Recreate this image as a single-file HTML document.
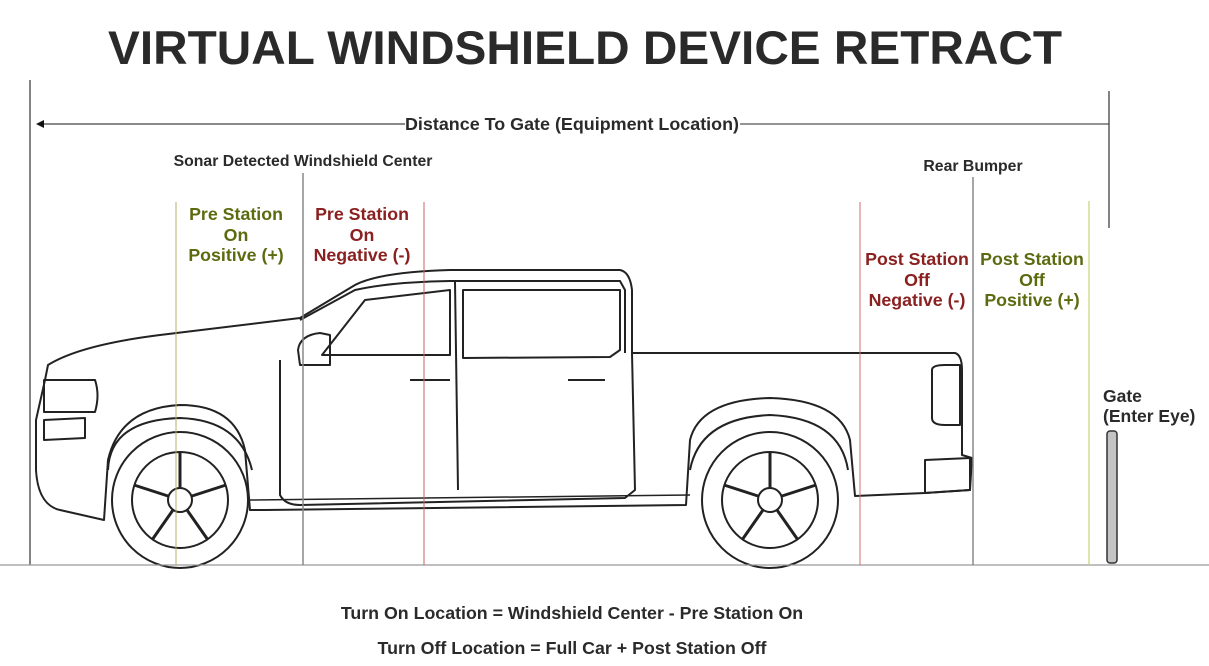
<!DOCTYPE html>
<html><head><meta charset="utf-8"><style>
html,body{margin:0;padding:0;background:#fff;}
svg{display:block}
text{font-family:"Liberation Sans",Arial,sans-serif;font-weight:bold;}
</style></head><body>
<svg width="1209" height="666" viewBox="0 0 1209 666" xmlns="http://www.w3.org/2000/svg">
<rect width="1209" height="666" fill="#fff"/>
<text x="585" y="64" font-size="47.5" fill="#2a2a2a" text-anchor="middle" textLength="954" lengthAdjust="spacingAndGlyphs">VIRTUAL WINDSHIELD DEVICE RETRACT</text>

<!-- truck -->
<g fill="none" stroke="#222" stroke-width="2" stroke-linejoin="round">
<path d="M45 380 L48 365 Q80 345 160 335 L300 318 L355 285 Q380 272 450 270 L620 270 Q630 272 632 290 L632 353 L955 353 Q962 355 962 370 L962 455 L972 458 L970 490 L925 493 L855 496 L850 440 Q840 400 770 398 Q700 400 690 440 L686 505 L265 510 L250 510 L245 450 Q235 405 180 405 Q120 408 108 460 L104 520 L60 510 Q38 505 36 470 L36 420 Z"/>
<path d="M300 320 L355 290 Q390 282 450 281 L620 281 L625 290 L625 353"/>
<path d="M322 355 L365 300 L450 290 L450 355 Z"/>
<path d="M463 290 L463 358 L610 357 L620 350 L620 290 Z"/>
<path d="M455 282 L458 490"/>
<path d="M280 360 L280 495 Q285 505 300 505 L625 498 L635 490 L632 353"/>
<path d="M298 350 Q300 335 320 333 L330 335 L330 365 L300 365 Z"/>
<path d="M410 380 L450 380 M568 380 L605 380"/>
<path d="M932 370 Q932 365 945 365 L960 365 L960 425 L945 425 Q932 425 932 418 Z"/>
<path d="M925 460 L970 458 L970 490 L925 493 Z"/>
<path d="M44 380 L95 380 Q100 395 95 412 L44 412 Z"/>
<path d="M44 420 L85 418 L85 438 L44 440 Z"/>
<path d="M108 470 Q110 420 180 418 Q240 420 252 470"/>
<path d="M690 470 Q700 418 770 415 Q840 418 848 470"/>
<path d="M250 500 L690 495" stroke-width="1.5"/>
</g>
<g fill="none" stroke="#222" stroke-width="2">
<circle cx="180" cy="500" r="68"/><circle cx="180" cy="500" r="48"/><circle cx="180" cy="500" r="12"/>
<circle cx="770" cy="500" r="68"/><circle cx="770" cy="500" r="48"/><circle cx="770" cy="500" r="12"/>
<path d="M180 452 L180 488 M134 485 L168 496 M152 540 L173 510 M208 540 L187 510 M226 485 L192 496" stroke-width="3"/>
<path d="M770 452 L770 488 M724 485 L758 496 M742 540 L763 510 M798 540 L777 510 M816 485 L782 496" stroke-width="3"/>
</g>

<!-- lines -->
<line x1="30" y1="80" x2="30" y2="565" stroke="#333" stroke-width="1.2"/>
<line x1="40" y1="124" x2="405" y2="124" stroke="#444" stroke-width="1.2"/>
<line x1="740" y1="124" x2="1109" y2="124" stroke="#555" stroke-width="1.2"/>
<polygon points="36,124 44,120 44,128" fill="#111"/>
<line x1="1109" y1="91" x2="1109" y2="228" stroke="#333" stroke-width="1.2"/>
<text x="572" y="130" font-size="17.5" fill="#2a2a2a" text-anchor="middle" textLength="334" lengthAdjust="spacingAndGlyphs">Distance To Gate (Equipment Location)</text>
<line x1="0" y1="565" x2="1209" y2="565" stroke="#999" stroke-width="1.2"/>
<line x1="176" y1="202" x2="176" y2="565" stroke="#b5b26a" stroke-width="1"/>
<line x1="303" y1="173" x2="303" y2="565" stroke="#888" stroke-width="1.5"/>
<line x1="424" y1="202" x2="424" y2="565" stroke="#c86060" stroke-width="1"/>
<line x1="860" y1="202" x2="860" y2="565" stroke="#d07070" stroke-width="1"/>
<line x1="973" y1="177" x2="973" y2="565" stroke="#888" stroke-width="1.5"/>
<line x1="1089" y1="201" x2="1089" y2="565" stroke="#c8d27a" stroke-width="1.2"/>
<rect x="1107" y="431" width="10" height="132" rx="3" fill="#c4c4c4" stroke="#333" stroke-width="1.5"/>

<g font-size="15.8" fill="#2a2a2a">
<text x="303" y="166" text-anchor="middle">Sonar Detected Windshield Center</text>
<text x="973" y="171" text-anchor="middle">Rear Bumper</text>
</g>
<g font-size="17.8" text-anchor="middle">
<g fill="#5c6b10"><text x="236" y="220">Pre Station</text><text x="236" y="241">On</text><text x="236" y="261">Positive (+)</text></g>
<g fill="#8a2020"><text x="362" y="220">Pre Station</text><text x="362" y="241">On</text><text x="362" y="261">Negative (-)</text></g>
<g fill="#8a2020"><text x="917" y="265">Post Station</text><text x="917" y="286">Off</text><text x="917" y="306">Negative (-)</text></g>
<g fill="#5c6b10"><text x="1032" y="265">Post Station</text><text x="1032" y="286">Off</text><text x="1032" y="306">Positive (+)</text></g>
</g>
<g font-size="17.5" fill="#2a2a2a">
<text x="1103" y="402">Gate</text><text x="1103" y="422">(Enter Eye)</text>
</g>
<g font-size="17.8" fill="#2a2a2a" text-anchor="middle">
<text x="572" y="619">Turn On Location = Windshield Center - Pre Station On</text>
<text x="572" y="654">Turn Off Location = Full Car + Post Station Off</text>
</g>
</svg>
</body></html>
